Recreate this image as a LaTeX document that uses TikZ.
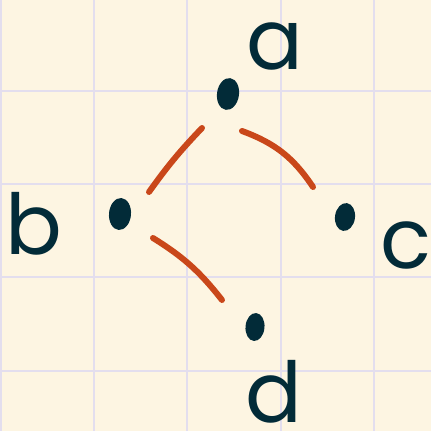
\documentclass[tikz,border=0pt]{standalone}
\usepackage{fontspec}
\setmainfont{Poppins}
\usetikzlibrary{shapes.geometric,calc}
\definecolor{paper}{HTML}{FDF5E2}
\definecolor{gridc}{HTML}{E3DEEE}
\definecolor{ink}{HTML}{022B38}
\definecolor{edgec}{HTML}{C9471A}
\tikzset{
  vdot/.style={ellipse, fill=ink, inner sep=0pt, minimum width=22pt, minimum height=32pt},
  lbl/.style={text=ink, inner sep=0pt, font=\fontsize{84}{84}\selectfont},
  edge/.style={draw=edgec, line width=6pt, line cap=round},
  gridline/.style={draw=gridc, line width=1.6pt}
}
\begin{document}
\begin{tikzpicture}[x=1pt,y=-1pt]
\fill[paper] (0,0) rectangle (431,431);
\useasboundingbox (0,0) rectangle (431,431);
\foreach \gx in {1,94,187,281,374} \draw[gridline] (\gx,0) -- (\gx,431);
\foreach \gy in {91,184,277,371} \draw[gridline] (0,\gy) -- (431,\gy);
% vertices
\node[vdot, rotate=-8] (pa) at (228,94) {};
\node[vdot, rotate=-5] (pb) at (120,214) {};
\node[vdot, rotate=-8, minimum width=20pt, minimum height=28pt] (pc) at (345,217) {};
\node[vdot, rotate=-5, minimum width=19pt, minimum height=28pt] (pd) at (255,327) {};
% labels
\node[lbl] (la) at (275,46) {a};
\node[lbl] (lb) at (34,224) {b};
\node[lbl] (lc) at (406,245) {c};
\node[lbl] (ld) at (274,392) {d};
% edges
\draw[edge] ($(pa)+(-26,34)$) to[bend right=4] ($(pb)+(29,-22)$);
\draw[edge] ($(pa)+(14,37)$) to[bend left=18] ($(pc)+(-32,-30)$);
\draw[edge] ($(pb)+(33,24)$) to[bend left=10] ($(pd)+(-33,-27)$);
\end{tikzpicture}
\end{document}
